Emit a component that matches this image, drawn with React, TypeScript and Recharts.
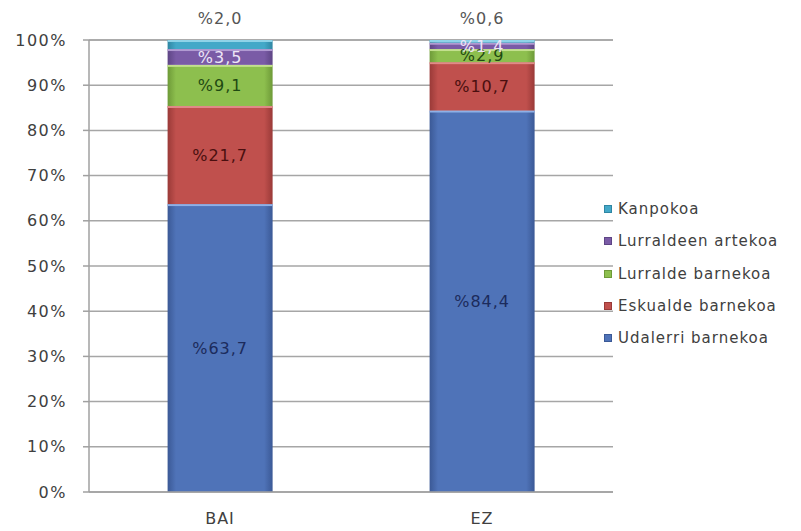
import { BarChart, Bar, XAxis, YAxis, CartesianGrid, LabelList } from "recharts";

const categories = ["BAI", "EZ"];
const udalerri = [63.7, 84.4];
const eskualde = [21.7, 10.7];
const lurralde = [9.1, 2.9];
const lurraldeen = [3.5, 1.4];
const kanpokoa = [2.0, 0.6];
const yTicks = [0, 10, 20, 30, 40, 50, 60, 70, 80, 90, 100];

const series = [
  { key: "udalerri", name: "Udalerri barnekoa", values: udalerri, color: "#4F73B8", dark: "#3B5996", light: "#8EB0E6", label: "#1C2B5C" },
  { key: "eskualde", name: "Eskualde barnekoa", values: eskualde, color: "#C0504D", dark: "#9A3A38", light: "#E08A88", label: "#4A0F0F" },
  { key: "lurralde", name: "Lurralde barnekoa", values: lurralde, color: "#8DBF4E", dark: "#6E9A38", light: "#C3E08E", label: "#1F4A12" },
  { key: "lurraldeen", name: "Lurraldeen artekoa", values: lurraldeen, color: "#7A5BA6", dark: "#5E4585", light: "#B19BD2", label: "#EDE6F7" },
  { key: "kanpokoa", name: "Kanpokoa", values: kanpokoa, color: "#43A8C8", dark: "#2F86A3", light: "#8FD3E8", label: "#555555" },
];

const data = categories.map((name, i) => {
  const row: Record<string, string | number> = { name };
  series.forEach((s) => (row[s.key] = s.values[i]));
  return row;
});

const fmt = (v: number) => "%" + v.toFixed(1).replace(".", ",");
const font = "'DejaVu Sans', Verdana, sans-serif";

function makeShape(s: (typeof series)[number]) {
  return (props: any) => {
    const { x, y, width, height } = props;
    if (!height || height <= 0) return <g />;
    return (
      <g>
        <rect x={x} y={y} width={width} height={height} fill={`url(#grad-${s.key})`} />
        <rect x={x} y={y} width={width} height={Math.min(2, height)} fill={s.light} />
      </g>
    );
  };
}

export default function App() {
  return (
    <div style={{ position: "absolute", left: 0, top: 0, width: 801, height: 531, background: "#fff", fontFamily: font }}>
      <BarChart
        width={801}
        height={531}
        data={data}
        margin={{ top: 40, right: 188, bottom: 0, left: 19 }}
        barCategoryGap="30%"
      >
        <defs>
          {series.map((s) => (
            <linearGradient key={s.key} id={`grad-${s.key}`} x1="0" y1="0" x2="1" y2="0">
              <stop offset="0%" stopColor={s.dark} />
              <stop offset="8%" stopColor={s.color} />
              <stop offset="92%" stopColor={s.color} />
              <stop offset="100%" stopColor={s.dark} />
            </linearGradient>
          ))}
        </defs>
        <CartesianGrid vertical={false} stroke="#a6a6a6" strokeWidth={1.5} />
        <XAxis
          dataKey="name"
          height={39}
          tickLine={false}
          tickMargin={15}
          axisLine={{ stroke: "#a0a0a0", strokeWidth: 1.5 }}
          tick={{ fill: "#404040", fontSize: 16, fontFamily: font, letterSpacing: 1 }}
        />
        <YAxis
          width={70}
          domain={[0, 100]}
          ticks={yTicks}
          tickFormatter={(v) => `${v}%`}
          tickSize={6}
          tickMargin={16}
          interval={0}
          axisLine={{ stroke: "#a0a0a0", strokeWidth: 1.5 }}
          tickLine={{ stroke: "#a0a0a0", strokeWidth: 1.5 }}
          tick={{ fill: "#404040", fontSize: 16, fontFamily: font, letterSpacing: 1.5 }}
        />
        {series.map((s) => (
          <Bar
            key={s.key}
            dataKey={s.key}
            name={s.name}
            stackId="a"
            fill={s.color}
            shape={makeShape(s)}
            isAnimationActive={false}
          >
            <LabelList
              dataKey={s.key}
              position={s.key === "kanpokoa" ? "top" : "center"}
              offset={s.key === "kanpokoa" ? 16 : 5}
              formatter={(v: any) => fmt(Number(v))}
              fill={s.label}
              style={{ fontSize: 16, fontFamily: font, letterSpacing: 1 }}
            />
          </Bar>
        ))}
      </BarChart>
      <div style={{ position: "absolute", left: 604, top: 193 }}>
        {[...series].reverse().map((s) => (
          <div key={s.key} style={{ display: "flex", alignItems: "center", height: 32.3 }}>
            <span style={{ width: 8, height: 8, background: s.color, border: `1px solid ${s.dark}`, marginRight: 6, boxSizing: "border-box" }} />
            <span style={{ fontSize: 15, color: "#404040", letterSpacing: 1, whiteSpace: "nowrap" }}>{s.name}</span>
          </div>
        ))}
      </div>
    </div>
  );
}
